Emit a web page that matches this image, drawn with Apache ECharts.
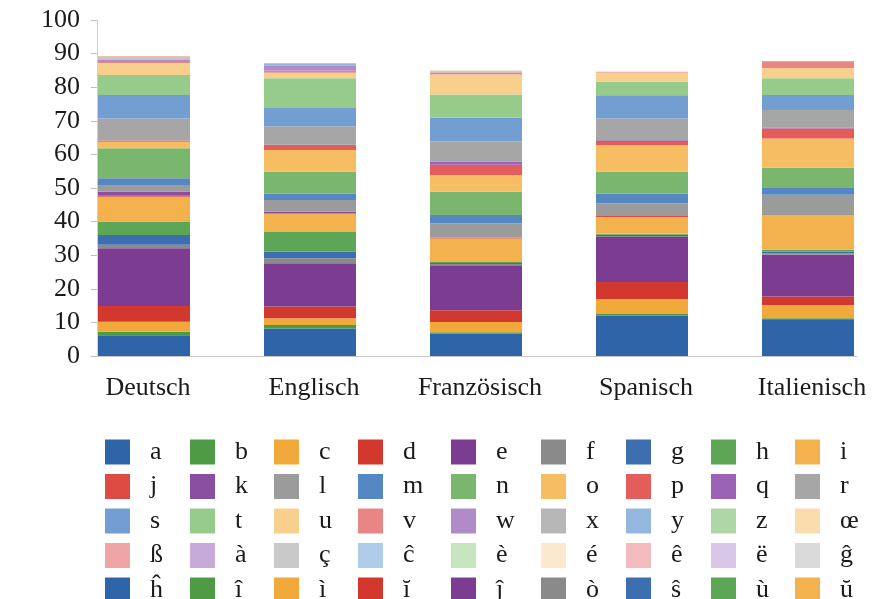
<!DOCTYPE html>
<html>
<head>
<meta charset="utf-8">
<script src="https://cdn.jsdelivr.net/npm/echarts@6/dist/echarts.min.js"></script>
<style>
  html, body { margin: 0; padding: 0; background: #ffffff; }
  #chart { width: 891px; height: 599px; }
</style>
</head>
<body>
<div id="chart"></div>
<script>
// Languages shown along the x axis
const languages = ['Deutsch', 'Englisch', 'Französisch', 'Spanisch', 'Italienisch'];

// Letters, in stacking order (bottom to top)
const letters = ['a','b','c','d','e','f','g','h','i',
                 'j','k','l','m','n','o','p','q','r',
                 's','t','u','v','w','x','y','z','œ',
                 'ß','à','ç','ĉ','è','é','ê','ë','ĝ',
                 'ĥ','î','ì','ĭ','ĵ','ò','ŝ','ù','ŭ'];

// Letter frequencies in percent, one value per letter (same order as letters)
const deutsch = [6.2, 1.0, 3.0, 4.7, 17.2, 1.0, 2.9, 4.0, 7.4,
                 0.3, 1.2, 2.0, 2.0, 8.9, 2.0, 0.3, 0.0, 6.6,
                 7.0, 5.9, 3.6, 0.3, 0.7, 0.4, 0.0, 0.4, 0.0,
                 0.2, 0.0, 0.0, 0.0, 0.0, 0.0, 0.0, 0.0, 0.0,
                 0.0, 0.0, 0.0, 0.0, 0.0, 0.0, 0.0, 0.0, 0.0];
const englisch = [8.2, 1.0, 2.0, 3.5, 12.9, 1.5, 2.0, 5.8, 5.4,
                  0.1, 0.5, 3.5, 2.0, 6.4, 6.5, 1.5, 0.1, 5.4,
                  5.5, 8.9, 1.6, 0.6, 1.6, 0.1, 0.5, 0.1, 0.0,
                  0.0, 0.0, 0.0, 0.0, 0.0, 0.0, 0.0, 0.0, 0.0,
                  0.0, 0.0, 0.0, 0.0, 0.0, 0.0, 0.0, 0.0, 0.0];
const franzoesisch = [6.6, 0.5, 3.0, 3.5, 13.4, 0.4, 0.3, 0.3, 7.0,
                      0.3, 0.0, 4.2, 2.5, 6.9, 5.0, 3.0, 1.0, 6.0,
                      7.0, 6.9, 6.0, 0.6, 0.0, 0.1, 0.1, 0.1, 0.0,
                      0.0, 0.2, 0.0, 0.0, 0.1, 0.2, 0.0, 0.0, 0.0,
                      0.0, 0.0, 0.0, 0.0, 0.0, 0.0, 0.0, 0.0, 0.0];
const spanisch = [12.0, 0.5, 4.5, 5.0, 13.4, 0.3, 0.4, 0.3, 5.0,
                  0.3, 0.0, 3.7, 3.0, 6.4, 7.9, 1.0, 0.5, 6.5,
                  6.9, 4.0, 2.8, 0.1, 0.0, 0.0, 0.1, 0.0, 0.0,
                  0.0, 0.0, 0.0, 0.0, 0.0, 0.0, 0.0, 0.0, 0.0,
                  0.0, 0.0, 0.0, 0.0, 0.0, 0.0, 0.0, 0.0, 0.0];
const italienisch = [10.7, 0.5, 4.0, 2.5, 12.4, 0.5, 0.5, 0.5, 10.4,
                     0.0, 0.0, 6.0, 2.0, 6.0, 8.7, 3.0, 0.3, 5.2,
                     4.5, 5.0, 3.0, 2.0, 0.0, 0.0, 0.0, 0.0, 0.0,
                     0.0, 0.0, 0.0, 0.0, 0.0, 0.0, 0.0, 0.0, 0.0,
                     0.0, 0.0, 0.0, 0.0, 0.0, 0.0, 0.0, 0.0, 0.0];

// y axis tick labels
const yTicks = [0, 10, 20, 30, 40, 50, 60, 70, 80, 90, 100];

// Office-style palette, one colour per letter
const colors = ['#2e64a8','#4e9a45','#f2a93b','#d3382e','#7b3c91','#8a8a8a','#3c6eb0','#5da655','#f3b24e',
                '#de4b45','#8b4fa2','#9b9b9b','#5587c2','#7ab66d','#f6bd62','#e35d5a','#9c62b5','#a6a6a6',
                '#729ed2','#97cb8c','#f8cf8c','#e88585','#b18bc9','#b7b7b7','#93b7df','#add8a5','#fadcad',
                '#f0a5a5','#c6aad9','#c9c9c9','#b0cceb','#c6e6bf','#fce8cc','#f3bbbd','#d9c6e8','#dadada',
                '#2e64a8','#4e9a45','#f2a93b','#d3382e','#7b3c91','#8a8a8a','#3c6eb0','#5da655','#f3b24e'];

const byLanguage = [deutsch, englisch, franzoesisch, spanisch, italienisch];
const FONT = '"Liberation Serif", "Times New Roman", serif';
const TEXT = '#1a1a1a';

const series = letters.map((letter, i) => ({
  name: letter,
  type: 'bar',
  stack: 'total',
  xAxisIndex: 0,
  yAxisIndex: 0,
  barWidth: 92,
  itemStyle: { color: colors[i] },
  emphasis: { disabled: true },
  data: byLanguage.map(arr => arr[i])
}));

// legend: nine columns of five entries
const legendCols = [105, 190, 274, 358, 451, 541, 626, 711, 795];
const legends = legendCols.map((x, c) => ({
  orient: 'vertical',
  left: x,
  top: 439,
  height: 200,
  itemWidth: 25,
  itemHeight: 25,
  itemGap: 8.5,
  icon: 'rect',
  padding: 0,
  selectedMode: false,
  data: [0, 1, 2, 3, 4].map(r => letters[r * 9 + c]),
  textStyle: {
    fontFamily: FONT,
    fontSize: 26,
    lineHeight: 25,
    color: TEXT,
    padding: [0, 0, 0, 15]
  }
}));

const chart = echarts.init(document.getElementById('chart'), null, { renderer: 'canvas' });
chart.setOption({
  backgroundColor: '#ffffff',
  animation: false,
  color: colors,
  legend: legends,
  grid: [
    // band layout for the columns
    { left: 61, top: 20, width: 831, height: 336 },
    // frame carrying the visible axis lines and value labels
    { left: 97, top: 20, width: 760, height: 336 }
  ],
  xAxis: [
    {
      type: 'category',
      gridIndex: 0,
      data: languages,
      axisLine: { show: false },
      axisTick: { show: false },
      axisLabel: { margin: 19, fontFamily: FONT, fontSize: 26, color: TEXT, padding: [0, 0, 0, 8] }
    },
    {
      type: 'category',
      gridIndex: 1,
      data: [''],
      axisLine: { show: true, lineStyle: { color: '#c8c8c8', width: 1 } },
      axisTick: { show: false },
      axisLabel: { show: false }
    }
  ],
  yAxis: [
    {
      type: 'value',
      gridIndex: 0,
      min: 0, max: 100, interval: 10,
      show: false
    },
    {
      type: 'value',
      gridIndex: 1,
      min: yTicks[0], max: yTicks[yTicks.length - 1], interval: 10,
      axisLine: { show: true, lineStyle: { color: '#d0d0d0', width: 1 } },
      axisTick: { show: true, length: 6, inside: false, lineStyle: { color: '#c0c0c0' } },
      splitLine: { show: false },
      axisLabel: { margin: 17, fontFamily: FONT, fontSize: 26, color: TEXT }
    }
  ],
  series: series
});
</script>
</body>
</html>
